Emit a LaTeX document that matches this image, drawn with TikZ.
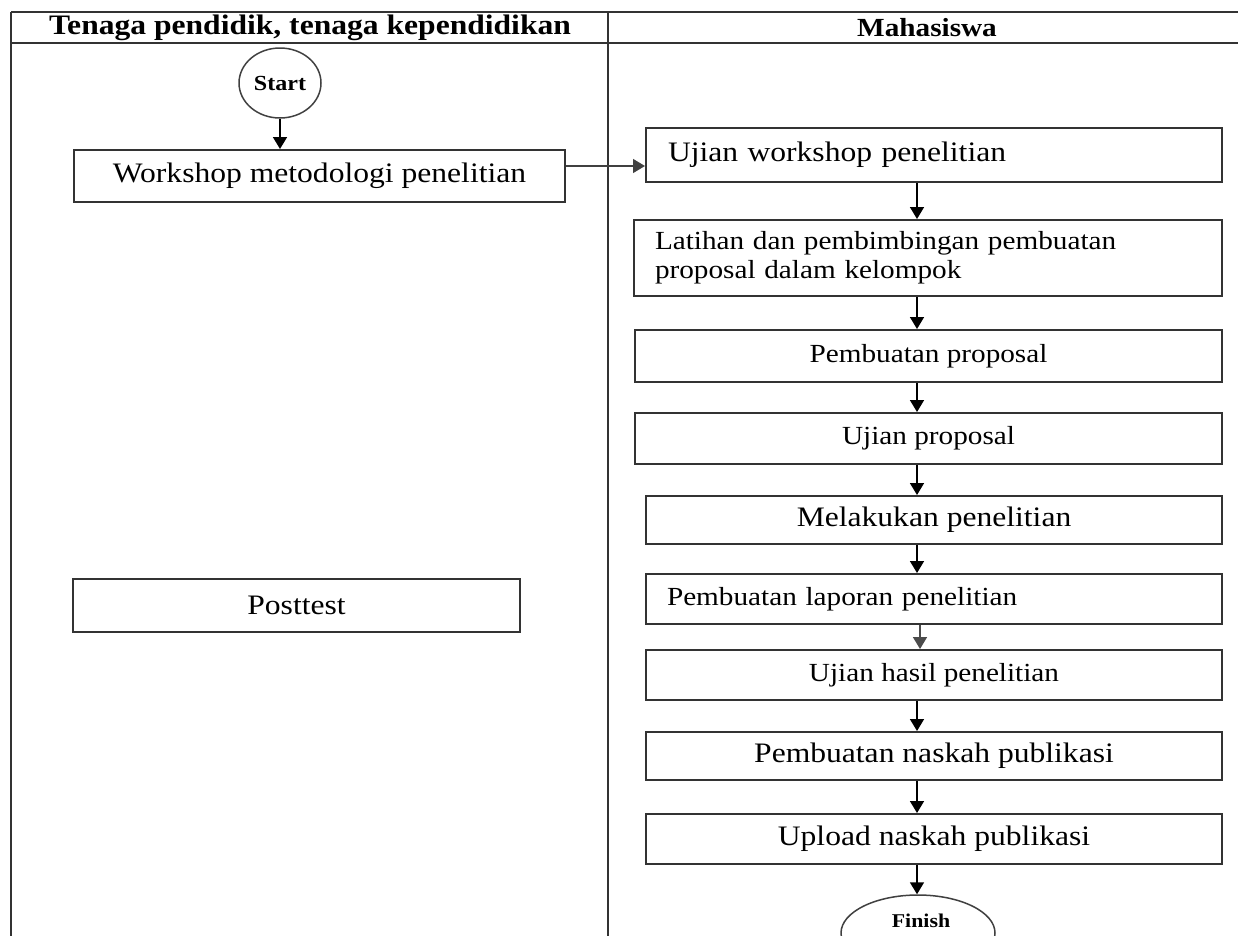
\documentclass[tikz,border=0pt]{standalone}
\usepackage{fontspec}
\setmainfont{Liberation Serif}[FakeStretch=1.12]
\usetikzlibrary{arrows.meta,shapes.geometric}

\newcommand{\sizeL}{\fontsize{28.2}{31}\selectfont}
\newcommand{\sizeM}{\fontsize{26.1}{29}\selectfont}

\tikzset{
  lane/.style={line width=2pt, draw=black!80},
  stepbox/.style={draw=black!80, line width=2pt, rectangle, inner sep=0pt,
                  align=center, font=\sizeM},
  leftbox/.style={draw=black!80, line width=2pt, rectangle, inner ysep=0pt,
                  align=left},
  termnode/.style={draw=black!75, line width=1.5pt, ellipse, inner sep=0pt,
                   font=\bfseries},
  arr/.style={line width=1.7pt, draw=black,
              -{Triangle[length=12pt,width=14pt]}},
}

\begin{document}
\begin{tikzpicture}[x=1pt,y=-1pt]
\useasboundingbox (0,0) rectangle (1238,935);
\begin{scope}
\clip (0,0) rectangle (1238,935);

% swimlane frame
\draw[lane] (11,12) -- (1238,12);
\draw[lane] (11,43) -- (1238,43);
\draw[lane] (11,12) -- (11,940);
\draw[lane] (608,12) -- (608,940);

\node[font=\bfseries\sizeL] (h1) at (310,28) {Tenaga pendidik, tenaga kependidikan};
\node[font=\bfseries\sizeM] (h2) at (927,28) {Mahasiswa};

% left lane
\node[termnode, minimum width=82pt, minimum height=70pt,
      font=\bfseries\fontsize{21.5}{24}\selectfont] (start) at (280,83) {Start};
\node[stepbox, font=\sizeL, minimum width=491pt, minimum height=52pt]
      (ws) at (319.5,176) {Workshop metodologi penelitian};
\node[stepbox, font=\sizeL, minimum width=447pt, minimum height=53pt]
      (post) at (296.5,605.5) {Posttest};

% right lane
\node[leftbox, font=\sizeL, text width=532pt, inner xsep=22pt, minimum height=54pt]
      (uw) at (934,155) {Ujian workshop penelitian};
\node[leftbox, font=\sizeM, text width=546pt, inner xsep=21pt, minimum height=76pt]
      (lat) at (928,258) {Latihan dan pembimbingan pembuatan\\proposal dalam kelompok};
\node[stepbox, minimum width=587pt, minimum height=52pt]
      (pp) at (928.5,356) {Pembuatan proposal};
\node[stepbox, minimum width=587pt, minimum height=51pt]
      (up) at (928.5,438.5) {Ujian proposal};
\node[stepbox, font=\sizeL, minimum width=576pt, minimum height=48pt]
      (mp) at (934,520) {Melakukan penelitian};
\node[leftbox, font=\sizeM, text width=534pt, inner xsep=21pt, minimum height=50pt]
      (lap) at (934,599) {Pembuatan laporan penelitian};
\node[stepbox, minimum width=576pt, minimum height=50pt]
      (uh) at (934,675) {Ujian hasil penelitian};
\node[stepbox, font=\sizeL, minimum width=576pt, minimum height=48pt]
      (pn) at (934,756) {Pembuatan naskah publikasi};
\node[stepbox, font=\sizeL, minimum width=576pt, minimum height=50pt]
      (un) at (934,839) {Upload naskah publikasi};
\node[termnode, minimum width=154pt, minimum height=76pt] (finish) at (918,933) {};
\node[font=\bfseries\fontsize{19.5}{22}\selectfont, inner sep=1pt]
      (finishlabel) at (921,921) {Finish};

% connector guides
\coordinate (ax) at (917,0);
\coordinate (bx) at (920,0);
\coordinate (ay) at (0,166);

% connectors
\draw[arr] (start.south) -- (ws.north -| start.south);
\draw[arr, line width=1.4pt, draw=black!75] (ws.east |- ay) -- (uw.west |- ay);
\draw[arr] (uw.south -| ax) -- (lat.north -| ax);
\draw[arr] (lat.south -| ax) -- (pp.north -| ax);
\draw[arr] (pp.south -| ax) -- (up.north -| ax);
\draw[arr] (up.south -| ax) -- (mp.north -| ax);
\draw[arr] (mp.south -| ax) -- (lap.north -| ax);
\draw[arr, draw=black!70] (lap.south -| bx) -- (uh.north -| bx);
\draw[arr] (uh.south -| ax) -- (pn.north -| ax);
\draw[arr] (pn.south -| ax) -- (un.north -| ax);
\draw[arr] (un.south -| ax) -- (finish.north -| ax);
\end{scope}
\end{tikzpicture}
\end{document}
